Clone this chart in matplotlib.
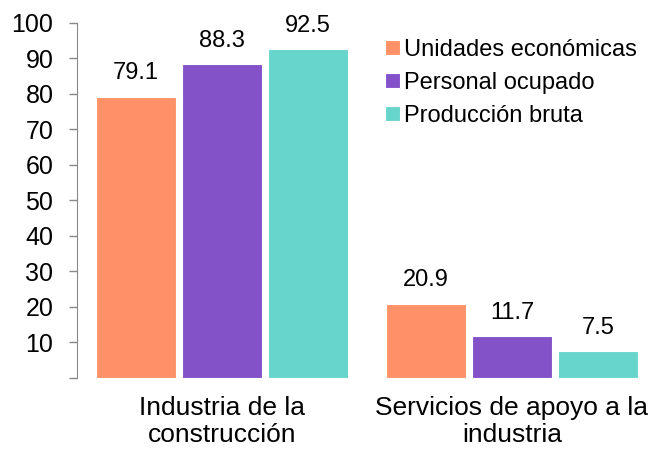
import matplotlib
matplotlib.use("Agg")
import matplotlib.pyplot as plt
import numpy as np

plt.rcParams['font.family'] = ['Liberation Sans', 'DejaVu Sans']

categories = ["Industria de la\nconstrucción", "Servicios de apoyo a la\nindustria"]
series_names = ["Unidades económicas", "Personal ocupado", "Producción bruta"]
unidades = [79.1, 20.9]
personal = [88.3, 11.7]
produccion = [92.5, 7.5]
yticks = [10, 20, 30, 40, 50, 60, 70, 80, 90, 100]
colors = ["#FF9168", "#8452C8", "#67D5CB"]

fig = plt.figure(figsize=(6.52, 4.51), dpi=100)
ax = fig.add_axes([77/652, 73/451, 1 - 77/652, (378 - 22.7)/451])

x = np.arange(len(categories))
slot = 0.297
width = 0.277
for i, (vals, name, c) in enumerate(zip([unidades, personal, produccion], series_names, colors)):
    bars = ax.bar(x + (i - 1) * slot, vals, width, color=c, label=name,
                  edgecolor="white", linewidth=0.8)
    ax.bar_label(bars, labels=[f"{v:.1f}" for v in vals], padding=9, fontsize=17)

ax.set_xlim(-0.5, 1.483)
ax.set_ylim(0, 100)
ax.set_yticks([0] + yticks)
ax.set_yticklabels([""] + [str(t) for t in yticks], fontsize=18)
ax.set_xticks(x)
ax.set_xticklabels(categories, fontsize=19, linespacing=1.15)
ax.tick_params(axis='x', length=0, pad=13)
ax.tick_params(axis='y', length=6, width=1, color="#888888", pad=11)
for s in ["top", "right", "bottom"]:
    ax.spines[s].set_visible(False)
ax.spines["left"].set_color("#888888")

ax.legend(loc="upper left", bbox_to_anchor=(0.52, 0.98), frameon=False, fontsize=17,
          handlelength=0.6, handleheight=0.6, handletextpad=0.2, labelspacing=0.45,
          borderaxespad=0)

fig.savefig("out.png", dpi=100)
